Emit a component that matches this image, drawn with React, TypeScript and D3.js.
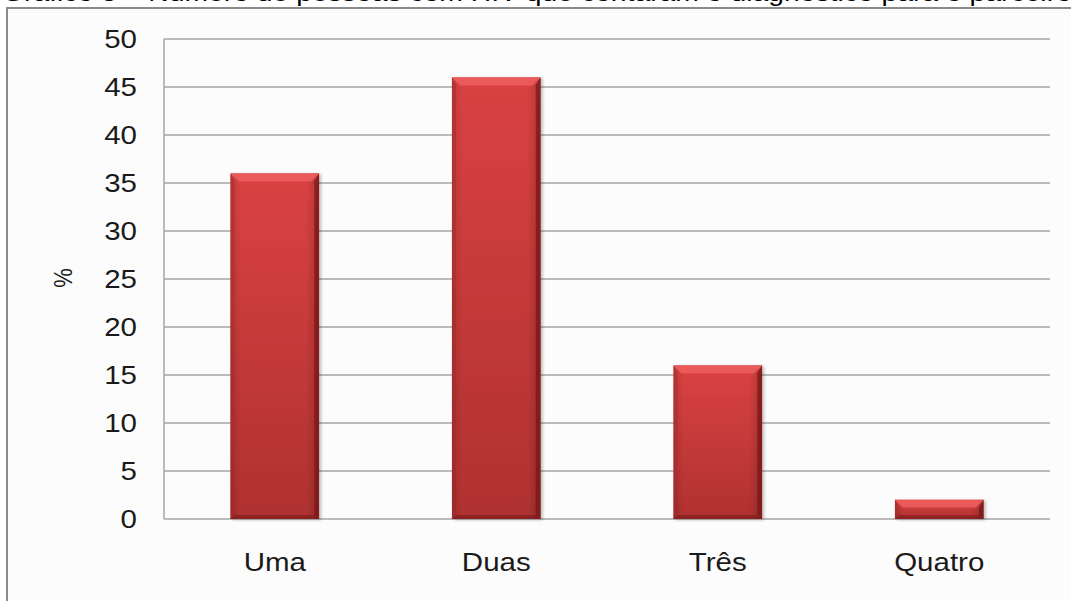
import React from "react";
import * as d3 from "d3";

const categories: string[] = ["Uma", "Duas", "Três", "Quatro"];
const values: number[] = [36, 46, 16, 2];
const yTicks: number[] = [0, 5, 10, 15, 20, 25, 30, 35, 40, 45, 50];
const yLabel = "%";
const title = "Gráfico 3 – Número de pessoas com HIV que contaram o diagnóstico para o parceiro";

const W = 1071;
const H = 601;
const M = { left: 164, right: 1050, top: 39, bottom: 519 };
const SX = 1.18;

export default function App() {
  const x = d3
    .scaleBand<string>()
    .domain(categories)
    .range([M.left, M.right])
    .paddingInner(0.6)
    .paddingOuter(0.3);
  const y = d3.scaleLinear().domain([0, 50]).range([M.bottom, M.top]);
  const font = "'Liberation Sans', Arial, sans-serif";

  return (
    <div style={{ position: "absolute", left: 0, top: 0, width: W, height: H, overflow: "hidden" }}>
      <svg width={W} height={H} style={{ display: "block" }}>
        <defs>
          <linearGradient id="barV" x1="0" y1="0" x2="0" y2="1">
            <stop offset="0%" stopColor="#da4242" />
            <stop offset="100%" stopColor="#b03131" />
          </linearGradient>
          <linearGradient id="barH" x1="0" y1="0" x2="1" y2="0">
            <stop offset="0%" stopColor="#000" stopOpacity="0.12" />
            <stop offset="12%" stopColor="#000" stopOpacity="0" />
            <stop offset="85%" stopColor="#000" stopOpacity="0" />
            <stop offset="100%" stopColor="#000" stopOpacity="0.18" />
          </linearGradient>
          <filter id="shadow" x="-10%" y="-10%" width="130%" height="130%">
            <feDropShadow dx="2" dy="1" stdDeviation="1.5" floodColor="#000" floodOpacity="0.25" />
          </filter>
        </defs>
        <rect x={0} y={0} width={W} height={H} fill="#ffffff" />
        {/* title, cropped at the top edge as in the reference */}
        <text transform={`translate(2, 1) scale(${SX},1)`} fontFamily={font} fontSize={24} fill="#000">
          {title}
        </text>
        {/* frame */}
        <rect x={7} y={8} width={W + 20} height={H + 20} fill="#fcfcfc" stroke="#8a8a8a" strokeWidth={2} />
        {/* gridlines */}
        {yTicks.map((t) => (
          <line key={t} x1={M.left} x2={M.right} y1={y(t)} y2={y(t)} stroke="#a6a6a6" strokeWidth={1.5} />
        ))}
        <line x1={M.left} x2={M.left} y1={M.top} y2={M.bottom} stroke="#a6a6a6" strokeWidth={1.5} />
        {/* y tick labels */}
        {yTicks.map((t) => (
          <text
            key={t}
            transform={`translate(137, ${y(t)}) scale(${SX},1)`}
            dy="0.35em"
            textAnchor="end"
            fontFamily={font}
            fontSize={25}
            fill="#1a1a1a"
          >
            {t}
          </text>
        ))}
        <text
          transform={`translate(72, ${278}) rotate(-90) scale(1,${SX})`}
          textAnchor="middle"
          fontFamily={font}
          fontSize={22}
          fill="#1a1a1a"
        >
          {yLabel}
        </text>
        {/* bars */}
        {categories.map((c, i) => {
          const bx = x(c)!;
          const bw = x.bandwidth();
          const by = y(values[i]);
          const bh = y(0) - by;
          const b = Math.min(8, bh / 2.5);
          return (
            <g key={c} filter="url(#shadow)">
              <rect x={bx} y={by} width={bw} height={bh} fill="url(#barV)" />
              <rect x={bx} y={by} width={bw} height={bh} fill="url(#barH)" />
              <polygon
                points={`${bx},${by} ${bx + bw},${by} ${bx + bw - b},${by + b} ${bx + b},${by + b}`}
                fill="#ea5a5a"
              />
              <polygon
                points={`${bx},${by} ${bx + b * 0.5},${by + b} ${bx + b * 0.5},${by + bh - b * 0.5} ${bx},${by + bh}`}
                fill="#a52a2a"
                opacity={0.45}
              />
              <polygon
                points={`${bx + bw},${by} ${bx + bw - b * 0.6},${by + b} ${bx + bw - b * 0.6},${by + bh - b * 0.5} ${bx + bw},${by + bh}`}
                fill="#7a1818"
                opacity={0.75}
              />
              <polygon
                points={`${bx},${by + bh} ${bx + b * 0.5},${by + bh - b * 0.5} ${bx + bw - b * 0.6},${by + bh - b * 0.5} ${bx + bw},${by + bh}`}
                fill="#7a1818"
                opacity={0.6}
              />
            </g>
          );
        })}
        {/* category labels */}
        {categories.map((c) => (
          <text
            key={c}
            transform={`translate(${x(c)! + x.bandwidth() / 2}, 571) scale(${SX},1)`}
            textAnchor="middle"
            fontFamily={font}
            fontSize={25}
            fill="#1a1a1a"
          >
            {c}
          </text>
        ))}
      </svg>
    </div>
  );
}
